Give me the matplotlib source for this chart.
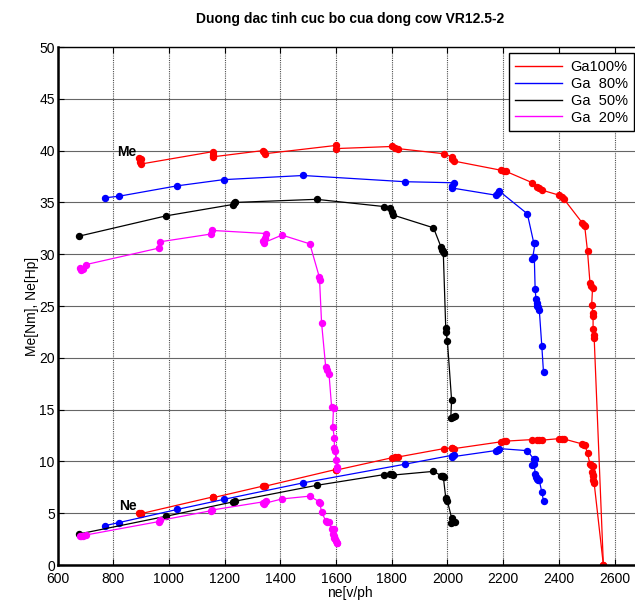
import matplotlib
matplotlib.use('Agg')
import matplotlib.pyplot as plt
from matplotlib.lines import Line2D

plt.rcParams['font.family'] = ['Liberation Sans', 'DejaVu Sans']

# DATA (n in v/ph, Me in Nm, Ne in Hp)
#Ga 100%
n100 = [893, 900, 897, 898, 1157, 1158, 1157, 1336, 1340, 1344, 1599, 1600, 1800, 1812, 1821,
        1988, 2015, 2018, 2022, 2194, 2202, 2210, 2305, 2323, 2330, 2338, 2401, 2410, 2419,
        2485, 2490, 2493, 2503, 2512, 2516, 2521, 2518, 2523, 2523, 2523, 2527, 2527, 2560]
me100 = [39.3, 39.2, 38.9, 38.7, 39.9, 39.6, 39.4, 40.0, 39.9, 39.7, 40.5, 40.2, 40.4, 40.3, 40.2,
         39.7, 39.4, 39.2, 39.0, 38.1, 38.05, 38.0, 36.9, 36.5, 36.35, 36.2, 35.7, 35.5, 35.3,
         33.0, 32.8, 32.7, 30.3, 27.2, 26.9, 26.7, 25.1, 24.3, 24.0, 22.8, 22.2, 21.9, 0.0]
ne100 = [5.00, 5.02, 4.97, 4.95, 6.57, 6.53, 6.49, 7.61, 7.61, 7.60, 9.22, 9.16, 10.35, 10.40, 10.42,
         11.24, 11.30, 11.26, 11.23, 11.90, 11.93, 11.96, 12.11, 12.07, 12.06, 12.05, 12.20, 12.18, 12.16,
         11.68, 11.63, 11.61, 10.80, 9.73, 9.64, 9.58, 9.00, 8.73, 8.62, 8.19, 7.99, 7.88, 0.0]

#Ga 80%
n80 = [771, 821, 1029, 1196, 1482, 1847, 2022, 2018, 2015, 2174, 2180, 2186, 2287,
       2310, 2315, 2305, 2312, 2315, 2318, 2322, 2320, 2327, 2330, 2339, 2345]
me80 = [35.45, 35.6, 36.6, 37.2, 37.6, 37.0, 36.9, 36.6, 36.4, 35.7, 35.9, 36.1, 33.9,
        31.1, 31.1, 29.5, 29.7, 26.6, 25.7, 25.3, 25.0, 24.9, 24.6, 21.1, 18.6]
ne80 = [3.80, 4.10, 5.36, 6.33, 7.93, 9.73, 10.62, 10.52, 10.44, 11.05, 11.14, 11.24, 11.04,
        10.23, 10.25, 9.68, 9.78, 8.77, 8.48, 8.36, 8.26, 8.25, 8.16, 7.03, 6.21]

#Ga 50%
n50 = [678, 989, 1229, 1233, 1237, 1530, 1773, 1794, 1800, 1803, 1950, 1977, 1982, 1988,
       1985, 1994, 1994, 2000, 2015, 2012, 2020, 2027]
me50 = [31.75, 33.7, 34.8, 34.9, 35.0, 35.3, 34.6, 34.45, 34.1, 33.8, 32.55, 30.7, 30.4, 30.1,
        30.3, 22.85, 22.5, 21.6, 15.9, 14.2, 14.3, 14.4]
ne50 = [3.00, 4.70, 6.09, 6.13, 6.16, 7.69, 8.73, 8.80, 8.74, 8.68, 9.04, 8.64, 8.58, 8.52,
        8.56, 6.49, 6.39, 6.15, 4.56, 4.07, 4.11, 4.16]

#Ga 20%
n20 = [681, 686, 692, 702, 965, 968, 1151, 1153, 1348, 1345, 1338, 1340, 1406, 1506, 1540,
       1541, 1548, 1563, 1568, 1575, 1584, 1591, 1588, 1594, 1594, 1597, 1600, 1603, 1605]
me20 = [28.7, 28.5, 28.6, 29.0, 30.6, 31.2, 31.95, 32.3, 32.0, 31.6, 31.3, 31.1, 31.85, 31.0, 27.8,
        27.5, 23.4, 19.1, 18.8, 18.4, 15.3, 15.2, 13.35, 12.3, 11.3, 11.0, 10.1, 9.5, 9.3]
ne20 = [2.78, 2.78, 2.82, 2.90, 4.20, 4.30, 5.24, 5.30, 6.14, 6.05, 5.96, 5.93, 6.38, 6.65, 6.10,
        6.03, 5.16, 4.25, 4.20, 4.13, 3.45, 3.44, 3.02, 2.79, 2.56, 2.50, 2.30, 2.17, 2.13]

series = [(n100, me100, ne100, '#ff0000', 'Ga100%'),
          (n80, me80, ne80, '#0000ff', 'Ga  80%'),
          (n50, me50, ne50, '#000000', 'Ga  50%'),
          (n20, me20, ne20, '#ff00ff', 'Ga  20%')]

fig = plt.figure(figsize=(6.35, 6.0), dpi=100)
# right part of the axes is cut off in the reference, so the axes runs past the figure edge
ax = fig.add_axes([0.0906, 0.0583, 0.921, 0.8633])

for n, me, ne, c, lab in series:
    ax.plot(n, me, '-o', color=c, lw=0.9, ms=4.3, mec=c, mfc=c)
    ax.plot(n, ne, '-o', color=c, lw=0.9, ms=4.3, mec=c, mfc=c)

ax.text(813, 39.9, 'Me', fontsize=10, fontweight='bold', va='center')
ax.text(820, 5.7, 'Ne', fontsize=10, fontweight='bold', va='center')

ax.set_xlim(600, 2700)
ax.set_ylim(0, 50)
ax.set_xticks(range(600, 2700, 200))
ax.set_yticks(range(0, 51, 5))
ax.tick_params(direction='in', length=4, labelsize=10, top=True, right=True, pad=2)
ax.tick_params(axis='x', pad=5)

#grid: dotted verticals, solid horizontals like the matlab export
ax.xaxis.grid(True, linestyle=(0, (1, 1)), color='0.3', lw=0.8)
ax.yaxis.grid(True, linestyle='-', color='0.4', lw=0.8)
ax.set_axisbelow(True)
ax.spines['left'].set_linewidth(1.8)
ax.spines['bottom'].set_linewidth(1.8)
ax.spines['top'].set_linewidth(1.0)
ax.spines['right'].set_linewidth(1.0)

ax.set_xlabel('ne[v/ph', fontsize=10, labelpad=0)
ax.set_ylabel('Me[Nm], Ne[Hp]', fontsize=10, labelpad=0)
ax.set_title('Duong dac tinh cuc bo cua dong cow VR12.5-2', fontsize=10, fontweight='bold', pad=17)

handles = [Line2D([0], [0], color=c, lw=1) for _, _, _, c, _ in series]
labels = [lab for _, _, _, _, lab in series]
leg = ax.legend(handles, labels, loc='upper right', bbox_to_anchor=(0.986, 0.988), borderaxespad=0,
                fontsize=10.5, fancybox=False, framealpha=1, edgecolor='k',
                handlelength=3.2, borderpad=0.45, labelspacing=0.2, handletextpad=0.6)
leg.get_frame().set_linewidth(1.0)

fig.savefig('out.png', dpi=100)
